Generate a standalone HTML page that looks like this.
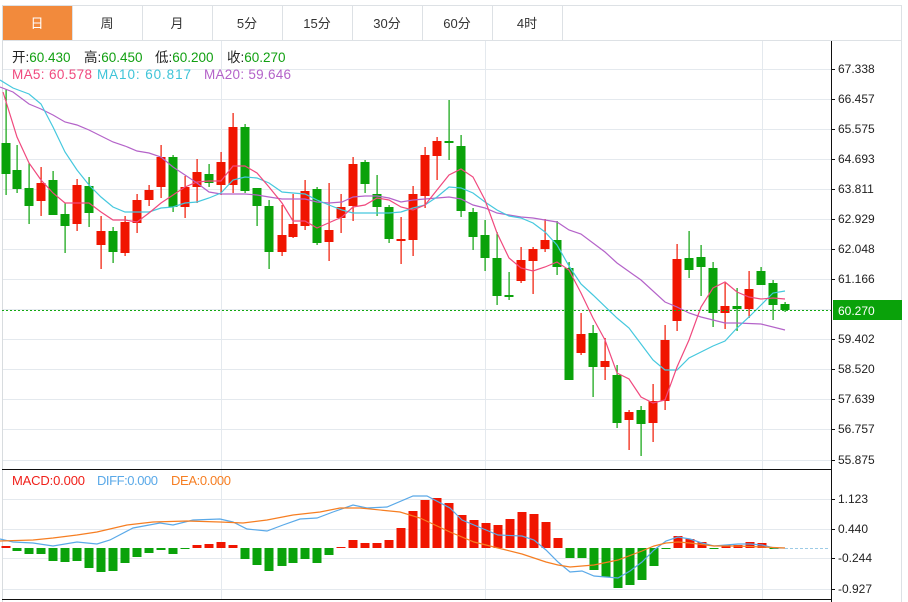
<!DOCTYPE html>
<html><head><meta charset="utf-8"><style>
html,body{margin:0;padding:0;background:#fff;width:908px;height:602px;overflow:hidden}
svg{display:block;font-family:"Liberation Sans","Noto Sans CJK SC",sans-serif}
</style></head><body>
<svg id="s" width="908" height="602" viewBox="0 0 908 602" xmlns="http://www.w3.org/2000/svg">
<rect x="0" y="0" width="908" height="602" fill="#fff"/>
<line x1="2" y1="5.5" x2="902" y2="5.5" stroke="#dde1e5"/>
<line x1="2" y1="40.5" x2="902" y2="40.5" stroke="#dde1e5"/>
<line x1="2.5" y1="5" x2="2.5" y2="602" stroke="#d8dcdf"/>
<line x1="901.5" y1="5" x2="901.5" y2="602" stroke="#dde1e5"/>
<rect x="3" y="6" width="69" height="34" fill="#f28a3c"/>
<g stroke="#dde1e5"><line x1="72.5" y1="6" x2="72.5" y2="40"/><line x1="142.5" y1="6" x2="142.5" y2="40"/><line x1="212.5" y1="6" x2="212.5" y2="40"/><line x1="282.5" y1="6" x2="282.5" y2="40"/><line x1="352.5" y1="6" x2="352.5" y2="40"/><line x1="422.5" y1="6" x2="422.5" y2="40"/><line x1="492.5" y1="6" x2="492.5" y2="40"/><line x1="562.5" y1="6" x2="562.5" y2="40"/></g>
<g font-size="13" text-anchor="middle" fill="#333">
<text x="37" y="28" fill="#fff">日</text><text x="107" y="28">周</text><text x="177" y="28">月</text><text x="247" y="28">5分</text><text x="317" y="28">15分</text><text x="387" y="28">30分</text><text x="457" y="28">60分</text><text x="527" y="28">4时</text>
</g>
<g id="grid" stroke="#e4e9ee" stroke-width="1"></g>
<line x1="221.5" y1="41" x2="221.5" y2="599" stroke="#e4e9ee"/>
<line x1="485.5" y1="41" x2="485.5" y2="599" stroke="#e4e9ee"/>
<line x1="762.5" y1="41" x2="762.5" y2="599" stroke="#e4e9ee"/>
<line x1="2" y1="469.5" x2="831" y2="469.5" stroke="#111"/>
<line x1="2" y1="599.5" x2="831" y2="599.5" stroke="#111"/>
<line x1="831.5" y1="41" x2="831.5" y2="602" stroke="#111"/>
<g id="cand"></g>
<g fill="none" stroke-width="1.2">
<polyline stroke="#b463c9" points="0,87 13,92 29,104 41,109 53,115 65,122 77,125 89,130 101,136 113,142 125,146 137,151 149,153 161,157 173,167 185,175 197,183 209,192 221,194 233,194 245,194 257,195 269,197 282,199 293,199 305,199 317,202 329,203 342,202 353,197 365,196 377,196 389,198 401,202 413,200 425,199 437,198 449,197 461,199 473,205 485,208 497,213 509,215 521,217 533,218 545,220 557,222 569,230 581,234 605,252 617,263 641,280 665,302 677,307 689,313 701,317 713,320 725,323 737,323 761,324 785,330"/>
<polyline stroke="#45c8de" points="0,80 13,88 29,94 41,104 53,127 65,152 77,170 89,185 101,197 113,207 125,212 137,212 149,212 161,208 173,207 185,203 197,202 209,198 221,193 233,180 245,177 257,178 269,183 282,192 293,193 305,194 317,200 329,205 342,210 353,213 365,213 377,213 389,213 401,212 413,208 425,205 437,197 449,187 461,188 473,193 485,202 497,210 509,216 521,218 533,223 545,232 557,245 569,266 581,284 593,295 617,318 629,328 653,360 665,370 677,370 689,358 701,352 713,346 725,341 737,328 749,317 761,305 773,293 785,291"/>
<polyline stroke="#f0497e" points="3,92 17,137 29,163 41,180 53,193 65,203 77,203 89,203 101,212 113,220 125,220 137,222 149,213 161,203 173,195 185,187 197,182 209,181 221,181 233,166 245,166 257,173 269,187 282,203 293,221 305,221 317,228 342,217 353,207 365,205 377,198 389,200 401,207 413,210 425,205 437,190 449,175 461,169 473,177 485,200 497,233 509,258 521,268 533,271 545,267 557,262 569,270 581,293 593,318 605,340 617,373 629,379 641,397 653,403 665,400 677,367 689,340 701,307 713,288 725,282 737,292 749,297 761,299 773,298 785,299"/>
</g>
<line x1="2" y1="310.5" x2="831" y2="310.5" stroke="#13a813" stroke-dasharray="2,2"/>
<line x1="785" y1="548.5" x2="829" y2="548.5" stroke="#9ccbe6" stroke-dasharray="3,2"/>
<g id="bars"></g>
<g fill="none" stroke-width="1.2">
<polyline stroke="#5aa9e8" points="0,539 13,542 33,543 53,546 77,542 97,544 110,540 133,528 160,523 173,525 193,520 220,519 233,522 247,529 267,531 283,525 300,519 317,518 333,512 353,505 367,508 387,507 413,496 427,496 450,508 462,520 486,530 498,535 522,536 534,540 546,550 558,562 570,572 582,571 594,576 606,577 618,578 630,571 642,562 654,550 666,541 678,537 690,539 702,543 714,546 726,545 738,544 750,544 762,545 774,548 785,548"/>
<polyline stroke="#f67e22" points="0,541 33,540 53,538 77,535 97,532 127,525 153,522 187,521 220,522 243,523 267,520 293,515 320,512 340,508 360,508 400,512 420,518 450,532 474,542 498,548 522,554 546,562 558,565 570,567 594,565 618,560 642,551 654,546 666,543 678,542 690,543 714,546 738,546 762,547 785,548"/>
</g>
<rect x="833" y="300" width="69" height="20" fill="#0aa20a"/>
<text x="838" y="315" font-size="12" fill="#fff">60.270</text>
<g id="axis" font-size="12" fill="#222"></g>
<g font-size="13.5">
<text x="12" y="62" fill="#222">开:<tspan fill="#12a012">60.430</tspan></text>
<text x="84" y="62" fill="#222">高:<tspan fill="#12a012">60.450</tspan></text>
<text x="155" y="62" fill="#222">低:<tspan fill="#12a012">60.200</tspan></text>
<text x="227" y="62" fill="#222">收:<tspan fill="#12a012">60.270</tspan></text>
<text x="12" y="79" fill="#f0497e" textLength="80">MA5: 60.578</text>
<text x="97" y="79" fill="#3ec4d8" textLength="94">MA10: 60.817</text>
<text x="204" y="79" fill="#b463c9" textLength="87">MA20: 59.646</text>
</g>
<g font-size="13">
<text x="12" y="485" fill="#f0201a" textLength="73">MACD:0.000</text>
<text x="97" y="485" fill="#5aa9e8" textLength="61">DIFF:0.000</text>
<text x="171" y="485" fill="#f67e22" textLength="60">DEA:0.000</text>
</g>
</svg>
<script>
var NS="http://www.w3.org/2000/svg";
function el(p,t,a){var e=document.createElementNS(NS,t);for(var k in a)e.setAttribute(k,a[k]);p.appendChild(e);return e;}
var grid=document.getElementById("grid"),axis=document.getElementById("axis");
var labs=[["67.338",69],["66.457",99],["65.575",129],["64.693",159],["63.811",189],["62.929",219],["62.048",249],["61.166",279],["59.402",339],["58.520",369],["57.639",399],["56.757",429],["55.875",460],["1.123",499],["0.440",529],["-0.244",558],["-0.927",589]];
[69,99,129,159,189,219,249,279,309,339,369,399,429,460,499,529,558,589].forEach(function(y){el(grid,"line",{x1:3,x2:831,y1:y+.5,y2:y+.5});});
labs.forEach(function(l){el(axis,"line",{x1:831,x2:835,y1:l[1]+.5,y2:l[1]+.5,stroke:"#111"});var t=el(axis,"text",{x:838,y:l[1]+4});t.textContent=l[0];});
var R="#f01500",G="#0aa20a";
var c=[[6,143,174,89,195,'g'],[17,170,189,145,193,'g'],[29,188,206,163,224,'g'],[41,183,201,167,216,'r'],[53,180,215,171,215,'g'],[65,214,226,203,253,'g'],[77,185,224,179,231,'r'],[89,186,213,177,227,'g'],[101,231,245,216,269,'r'],[113,231,252,227,263,'g'],[125,222,253,216,256,'r'],[137,200,223,194,233,'r'],[149,190,200,185,206,'r'],[161,157,187,145,198,'r'],[173,157,207,155,212,'g'],[185,187,207,176,218,'r'],[197,172,187,159,203,'r'],[209,174,183,164,187,'g'],[221,162,185,152,195,'r'],[233,127,185,113,193,'r'],[245,127,191,124,193,'g'],[257,188,206,188,226,'g'],[269,206,252,200,269,'g'],[282,235,252,205,256,'r'],[293,224,237,194,238,'r'],[305,191,226,180,230,'r'],[317,189,243,187,245,'g'],[329,230,242,183,261,'r'],[341,207,218,194,233,'r'],[353,164,206,157,221,'r'],[365,162,184,160,193,'g'],[377,194,207,175,216,'g'],[389,207,239,205,243,'g'],[401,239,241,217,264,'r'],[413,194,240,186,256,'r'],[425,155,196,147,208,'r'],[437,141,156,137,180,'r'],[449,141,143,100,160,'g'],[461,146,211,135,217,'g'],[473,212,237,208,250,'g'],[485,235,258,220,271,'g'],[497,258,296,232,305,'g'],[509,295,297,272,300,'g'],[521,260,281,247,283,'r'],[533,249,261,247,294,'r'],[545,240,249,219,252,'r'],[557,240,267,221,275,'g'],[569,268,380,262,380,'g'],[581,334,353,313,355,'r'],[593,333,367,325,397,'g'],[605,361,367,338,380,'r'],[617,375,423,365,428,'g'],[629,412,420,410,450,'r'],[641,410,424,406,456,'g'],[653,401,423,384,442,'r'],[665,340,401,325,410,'r'],[677,259,321,244,331,'r'],[689,258,270,231,278,'g'],[701,257,267,245,296,'g'],[713,268,313,262,327,'g'],[725,306,313,283,329,'r'],[737,306,309,288,331,'g'],[749,289,309,271,318,'r'],[761,271,285,267,285,'g'],[773,283,305,280,320,'g'],[785,304,310,302,312,'g']];
var cg=document.getElementById("cand");
c.forEach(function(d){var col=d[5]=='r'?R:G;el(cg,"rect",{x:d[0]-0.5,y:d[3],width:1.2,height:d[4]-d[3],fill:col});el(cg,"rect",{x:d[0]-4.5,y:d[1],width:9,height:Math.max(1.5,d[2]-d[1]),fill:col});});
var b=[[6,546],[17,551],[29,554],[41,554],[53,561],[65,562],[77,561],[89,568],[101,572],[113,571],[125,563],[137,557],[149,553],[161,550],[173,554],[185,549],[197,545],[209,544],[221,542],[233,545],[245,559],[257,565],[269,571],[282,566],[293,563],[305,559],[317,563],[329,555],[341,547],[353,540],[365,543],[377,543],[389,540],[401,528],[413,511],[425,500],[437,498],[449,503],[462,515],[474,520],[486,523],[498,525],[510,519],[522,512],[534,514],[546,522],[558,538],[570,558],[582,558],[594,570],[606,577],[618,588],[630,585],[642,580],[654,566],[666,549],[678,536],[690,539],[702,542],[714,549],[726,545],[738,545],[750,542],[762,543],[774,549]];
var bg=document.getElementById("bars");
b.forEach(function(d){var z=548,y=d[1];if(y<z)el(bg,"rect",{x:d[0]-4.5,y:y,width:9,height:z-y,fill:R});else if(y>z)el(bg,"rect",{x:d[0]-4.5,y:z,width:9,height:y-z,fill:G});});
</script>
</body></html>
